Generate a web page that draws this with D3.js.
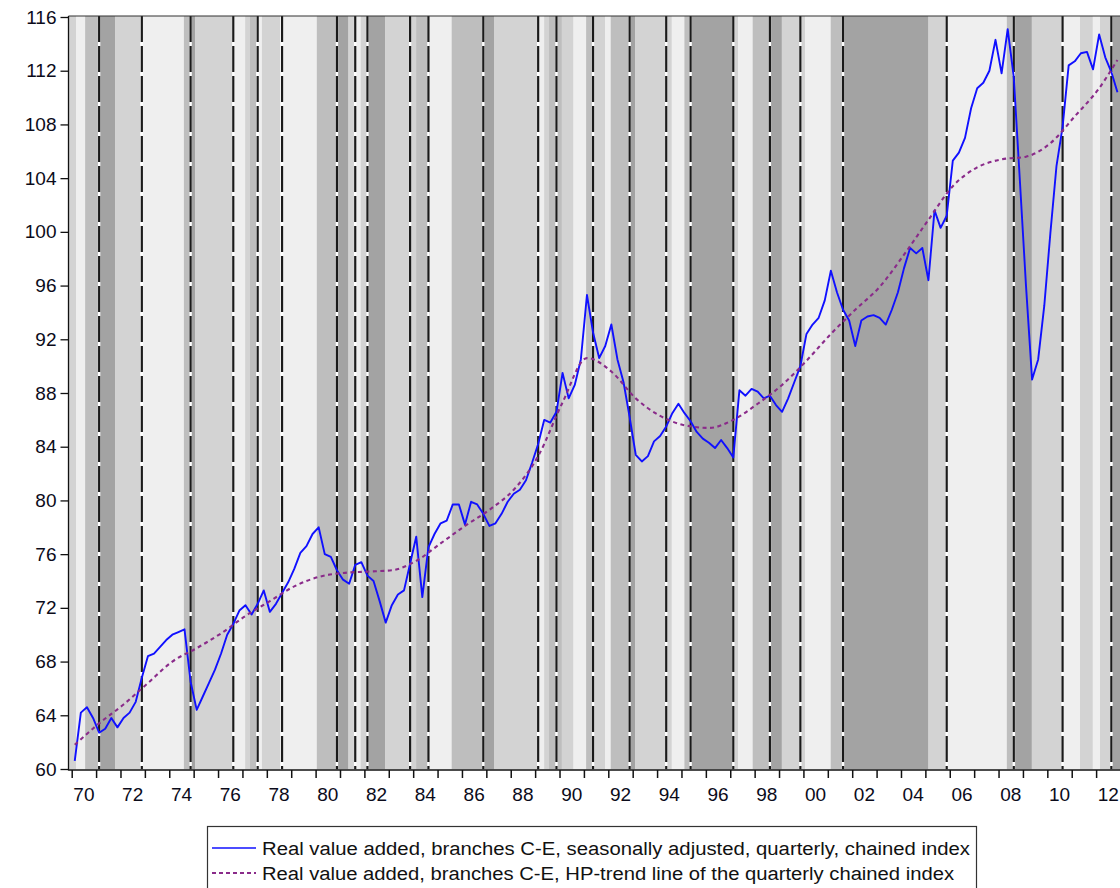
<!DOCTYPE html>
<html><head><meta charset="utf-8">
<script src="https://cdn.jsdelivr.net/npm/d3@7/dist/d3.min.js"></script>
<style>body{margin:0;background:#fff}svg{display:block}</style>
</head><body><svg id="c" width="1120" height="888"></svg>
<script>
// ---------- DATA ----------
const firstYear = 1970; // first quarter: 1970Q1
const realValueAdded = [
  60.6, 64.2, 64.6, 63.8,   62.7, 63.0, 63.8, 63.1,   63.8, 64.2, 65.0, 66.8,
  68.4, 68.6, 69.1, 69.6,   70.0, 70.2, 70.4, 66.5,   64.4, 65.4, 66.4, 67.4,
  68.6, 70.0, 70.8, 71.8,   72.2, 71.5, 72.3, 73.3,   71.7, 72.3, 73.1, 73.9,
  74.9, 76.1, 76.6, 77.5,   78.0, 76.0, 75.8, 74.8,   74.1, 73.8, 75.2, 75.4,
  74.4, 74.0, 72.5, 70.9,   72.2, 73.0, 73.3, 75.3,   77.3, 72.8, 76.5, 77.5,
  78.3, 78.5, 79.7, 79.7,   78.2, 79.9, 79.7, 79.0,   78.1, 78.3, 79.0, 79.9,
  80.5, 80.8, 81.5, 82.8,   84.2, 86.0, 85.8, 86.6,   89.5, 87.6, 88.6, 90.5,
  95.3, 92.5, 90.6, 91.5,   93.1, 90.5, 88.8, 86.2,   83.4, 82.9, 83.3, 84.4,
  84.8, 85.5, 86.5, 87.2,   86.5, 85.9, 85.1, 84.6,   84.3, 83.9, 84.5, 83.9,
  83.2, 88.2, 87.8, 88.3,   88.1, 87.6, 87.8, 87.1,   86.6, 87.6, 88.8, 90.0,
  92.4, 93.1, 93.6, 94.9,   97.1, 95.5, 94.2, 93.4,   91.5, 93.4, 93.7, 93.8,
  93.6, 93.1, 94.2, 95.5,   97.3, 98.8, 98.4, 98.8,   96.4, 101.6, 100.3, 101.2,
  105.3, 105.9, 107.0, 109.2, 110.7, 111.1, 112.0, 114.3, 111.8, 115.1, 111.5, 103.8,
  96.0, 89.0, 90.5, 94.5,   99.9, 104.9, 107.8, 112.4, 112.7, 113.3, 113.4, 112.1,
  114.7, 113.0, 111.9, 110.4
];
// HP trend read at the first quarter of each year (plus the last quarter)
const hpTrendQuarters = ["1970Q1","1971Q1","1972Q1","1973Q1","1974Q1","1975Q1","1976Q1","1977Q1","1978Q1","1979Q1",
  "1980Q1","1981Q1","1982Q1","1983Q1","1984Q1","1985Q1","1986Q1","1987Q1","1988Q1","1989Q1",
  "1990Q1","1991Q1","1992Q1","1993Q1","1994Q1","1995Q1","1996Q1","1997Q1","1998Q1","1999Q1",
  "2000Q1","2001Q1","2002Q1","2003Q1","2004Q1","2005Q1","2006Q1","2007Q1","2008Q1","2009Q1",
  "2010Q1","2011Q1","2012Q1","2012Q4"];
const hpTrend = [61.8, 63.4, 64.8, 66.4, 68.0, 69.0, 70.1, 71.4, 72.5, 73.6,
  74.3, 74.6, 74.7, 74.8, 75.5, 76.8, 78.1, 79.3, 80.8, 83.3,
  87.3, 90.6, 89.6, 87.6, 86.3, 85.6, 85.4, 86.0, 87.2, 88.6,
  90.4, 92.4, 94.2, 95.9, 98.3, 100.9, 103.4, 104.8, 105.4, 105.6,
  106.6, 108.6, 110.7, 112.8];
// business-cycle phase bands: [start, end, phase 0..3]
const phaseBands = [
  [1969.80,1970.18,1],[1970.18,1970.55,0],[1970.55,1971.13,2],[1971.13,1971.78,3],[1971.78,1972.80,1],
  [1972.80,1974.60,0],[1974.60,1974.82,2],[1974.82,1975.06,3],[1975.06,1976.63,1],[1976.63,1977.11,0],
  [1977.11,1977.31,1],[1977.31,1977.56,2],[1977.56,1977.80,0],[1977.80,1978.54,1],[1978.54,1980.05,0],
  [1980.05,1980.87,2],[1980.87,1981.34,3],[1981.34,1981.57,1],[1981.57,1981.85,0],[1981.85,1982.07,1],
  [1982.07,1982.85,3],[1982.85,1984.12,1],[1984.12,1984.69,2],[1984.69,1985.58,0],[1985.58,1986.88,2],
  [1986.88,1987.32,3],[1987.32,1989.13,1],[1989.13,1989.37,0],[1989.37,1989.57,1],[1989.57,1990.09,2],
  [1990.09,1990.57,1],[1990.57,1991.09,0],[1991.09,1991.39,2],[1991.39,1991.87,1],[1991.87,1992.10,0],
  [1992.10,1992.89,2],[1992.89,1993.10,3],[1993.10,1994.60,1],[1994.60,1995.12,0],[1995.12,1995.39,2],
  [1995.39,1997.13,3],[1997.13,1997.32,1],[1997.32,1997.92,0],[1997.92,1998.63,2],[1998.63,1999.11,3],
  [1999.11,2000.07,1],[2000.07,2001.12,0],[2001.12,2001.64,2],[2001.64,2005.12,3],[2005.12,2005.93,1],
  [2005.93,2008.34,0],[2008.34,2008.68,2],[2008.68,2009.36,3],[2009.36,2010.66,1],[2010.66,2011.34,0],
  [2011.34,2011.86,1],[2011.86,2012.16,0],[2012.16,2012.68,1],[2012.68,2013.40,3]
];
const turningPoints = ["1971Q1","1972Q4","1974Q4","1976Q3","1977Q3","1978Q3","1980Q4","1981Q3","1982Q1",
  "1983Q4","1984Q3","1986Q4","1989Q1","1989Q4","1991Q2","1992Q4","1994Q2","1995Q2","1997Q1","1998Q3",
  "1999Q4","2001Q3","2005Q4","2008Q3","2010Q3","2012Q3"];
const yTicks = [60,64,68,72,76,80,84,88,92,96,100,104,108,112,116];
const xTickYears = d3.range(1970, 2014);
const xLabelYears = d3.range(1970, 2013, 2);
const seriesNames = ["Real value added, branches C-E, seasonally adjusted, quarterly, chained index",
  "Real value added, branches C-E, HP-trend line of the quarterly chained index"];

// ---------- CHART ----------
const phaseColors = ["#efefef","#d3d3d3","#bebebe","#a3a3a3"];
const svg = d3.select("#c");
svg.append("rect").attr("width",1120).attr("height",888).attr("fill","#fff");

const plotL = 68.5, plotT = 16, plotB = 769.5, plotR = 1125;
const x = d3.scaleLinear().domain([1970, 2013]).range([71.7, 1120.5]);
const y = d3.scaleLinear().domain([60, 116]).range([769, 17]);
const qTime = s => +s.slice(0,4) + (+s.slice(5) - 1) / 4 + 0.125;
const idxTime = i => firstYear + 0.125 + i * 0.25;

svg.append("clipPath").attr("id","clip").append("rect")
  .attr("x",plotL).attr("y",plotT).attr("width",plotR-plotL).attr("height",plotB-plotT);
const plot = svg.append("g").attr("clip-path","url(#clip)");

plot.selectAll("rect.band").data(phaseBands).join("rect").attr("class","band")
  .attr("x", d => x(d[0])).attr("width", d => x(d[1]) - x(d[0]) + 0.3)
  .attr("y", plotT).attr("height", plotB - plotT)
  .attr("fill", d => phaseColors[d[2]]);

const tp = plot.selectAll("g.tp").data(turningPoints).join("g").attr("class","tp");
tp.append("line").attr("x1", d => x(qTime(d))).attr("x2", d => x(qTime(d)))
  .attr("y1", plotT).attr("y2", plotB).attr("stroke","#fff").attr("stroke-width",2.4);
tp.append("line").attr("x1", d => x(qTime(d))).attr("x2", d => x(qTime(d)))
  .attr("y1", plotT).attr("y2", plotB).attr("stroke","#1a1a1a").attr("stroke-width",2.2)
  .attr("stroke-dasharray","26,4");

const lineMain = d3.line().x((d,i) => x(idxTime(i))).y(d => y(d));
plot.append("path").datum(realValueAdded).attr("d", lineMain)
  .attr("fill","none").attr("stroke","#1010ff").attr("stroke-width",1.9).attr("stroke-linejoin","round");

const lineTrend = d3.line().curve(d3.curveMonotoneX)
  .x((d,i) => x(qTime(hpTrendQuarters[i]))).y(d => y(d));
plot.append("path").datum(hpTrend).attr("d", lineTrend)
  .attr("fill","none").attr("stroke","#8a2b8a").attr("stroke-width",2.1).attr("stroke-dasharray","4,3.5");

// frame
svg.append("line").attr("x1",plotL).attr("x2",1120).attr("y1",plotT).attr("y2",plotT).attr("stroke","#333").attr("stroke-width",1.2);

// y axis
const yAxis = d3.axisLeft(y).tickValues(yTicks).tickSize(8).tickPadding(4).tickFormat(d3.format("d"));
const gy = svg.append("g").attr("transform",`translate(${plotL},0)`).call(yAxis);
gy.select(".domain").attr("d",`M0,${plotT}V${plotB+1}`).attr("stroke","#111").attr("stroke-width",1.3);
gy.selectAll(".tick line").attr("stroke","#111").attr("stroke-width",1.3);
gy.selectAll("text").attr("font-family","'Liberation Sans', Arial, sans-serif").attr("font-size",19).attr("fill","#0b0b1a");

// x axis
const xAxis = d3.axisBottom(x).tickValues(xTickYears).tickSize(8).tickFormat("");
const gx = svg.append("g").attr("transform",`translate(0,${plotB+0.5})`).call(xAxis);
gx.select(".domain").attr("d",`M${plotL},0H1120`).attr("stroke","#111").attr("stroke-width",1.3);
gx.selectAll(".tick line").attr("stroke","#111").attr("stroke-width",1.5);
svg.append("g").selectAll("text").data(xLabelYears).join("text")
  .attr("x", d => x(d + 0.5)).attr("y", 801).attr("text-anchor","middle")
  .attr("font-family","'Liberation Sans', Arial, sans-serif").attr("font-size",19).attr("fill","#0b0b1a")
  .text(d => String(d % 100).padStart(2,"0"));

// legend
const lg = svg.append("g");
lg.append("rect").attr("x",207.5).attr("y",826.5).attr("width",769).attr("height",70)
  .attr("fill","#fff").attr("stroke","#333").attr("stroke-width",1.2);
const legStyles = [{stroke:"#1010ff", dash:null, w:1.6}, {stroke:"#8a2b8a", dash:"4,3", w:1.8}];
const legLen = [708, 692];
seriesNames.forEach((name, i) => {
  const yy = 848 + i * 25;
  lg.append("line").attr("x1",212).attr("x2",256).attr("y1",yy).attr("y2",yy)
    .attr("stroke",legStyles[i].stroke).attr("stroke-width",legStyles[i].w)
    .attr("stroke-dasharray",legStyles[i].dash);
  lg.append("text").attr("x",262).attr("y",yy+6.5)
    .attr("font-family","'Liberation Sans', Arial, sans-serif").attr("font-size",18).attr("fill","#111")
    .attr("textLength",legLen[i]).attr("lengthAdjust","spacingAndGlyphs").text(name);
});
</script></body></html>
